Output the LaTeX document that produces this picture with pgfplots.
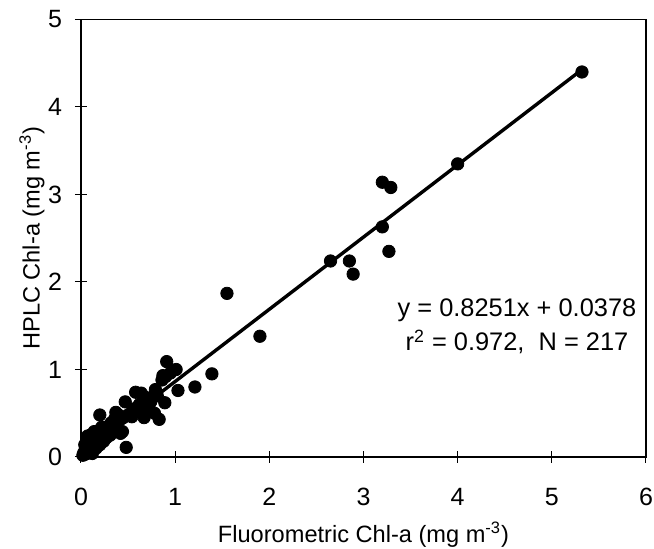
\documentclass[border=0pt]{standalone}
\usepackage{fontspec}
\setmainfont{Liberation Sans}
\usepackage{pgfplots}
\pgfplotsset{compat=1.18}

\begin{document}
\begin{tikzpicture}
\path[use as bounding box] (-40.5pt,-46pt) rectangle (286.5pt,228.5pt);
\begin{axis}[
    scale only axis,
    width=282.5pt, height=218.75pt,
    xmin=0, xmax=6, ymin=0, ymax=5,
    xtick={0,...,6}, ytick={0,...,5},
    axis line style={line width=0.7pt},
    tick align=center,
    major tick length=6pt,
    tick style={line width=0.5pt, black},
    xtick pos=bottom, ytick pos=left,
    /pgf/number format/assume math mode=true,
    tick label style={font=\fontsize{12.5}{14}\selectfont},
    xticklabel style={yshift=-9pt},
    yticklabel style={xshift=-3pt},
    xlabel={Fluorometric Chl-a (mg m\textsuperscript{-3})},
    ylabel={HPLC Chl-a (mg m\textsuperscript{-3})},
    label style={font=\fontsize{11.8}{13}\selectfont},
    xlabel style={at={(axis description cs:0.5,-0.178)}, anchor=center},
    ylabel style={at={(axis description cs:-0.087,0.5)}, anchor=center},
    clip=false,
]
\addplot[only marks, mark=*, mark size=3.1pt, black] coordinates {
(0.02,0.02) (0.03,0.05) (0.04,0.03) (0.05,0.06) (0.05,0.10) (0.06,0.04)
(0.07,0.08) (0.07,0.24) (0.08,0.12) (0.09,0.07) (0.10,0.10) (0.10,0.25)
(0.11,0.14) (0.12,0.09) (0.13,0.12) (0.14,0.29) (0.14,0.17) (0.15,0.13)
(0.16,0.20) (0.17,0.15) (0.18,0.23) (0.19,0.18) (0.20,0.48) (0.20,0.22)
(0.21,0.19) (0.22,0.34) (0.22,0.25) (0.24,0.22) (0.25,0.28) (0.26,0.24)
(0.27,0.33) (0.28,0.27) (0.30,0.30) (0.30,0.36) (0.32,0.39) (0.33,0.30)
(0.35,0.40) (0.37,0.51) (0.38,0.35) (0.40,0.48) (0.42,0.43) (0.42,0.27)
(0.44,0.29) (0.45,0.45) (0.47,0.63) (0.48,0.11) (0.50,0.48) (0.53,0.50)
(0.54,0.46) (0.56,0.55) (0.58,0.74) (0.60,0.54) (0.62,0.60) (0.64,0.73)
(0.66,0.66) (0.67,0.45) (0.69,0.68) (0.70,0.52) (0.72,0.58) (0.74,0.63)
(0.78,0.50) (0.79,0.77) (0.81,0.70) (0.83,0.43) (0.86,0.88) (0.87,0.93)
(0.89,0.62) (0.90,0.92) (0.91,1.09) (0.95,0.96) (1.01,1.00) (1.03,0.76)
(1.21,0.80) (1.39,0.95) (1.55,1.87) (1.90,1.38)
(2.65,2.24) (2.85,2.24) (2.89,2.09)
(3.20,3.14) (3.29,3.08) (3.20,2.63) (3.27,2.35)
(4.00,3.35) (5.32,4.40)
(0.04,0.14) (0.06,0.18) (0.09,0.20) (0.12,0.22) (0.16,0.27) (0.19,0.30)
(0.23,0.31) (0.27,0.22) (0.31,0.25) (0.34,0.34) (0.36,0.44) (0.39,0.42)
(0.12,0.04) (0.16,0.10) (0.20,0.14) (0.24,0.18)
};
\addplot[black, line width=1.7pt] coordinates {(0,0.0378) (5.32,4.4273)};
\node[align=center, font=\fontsize{12.7}{17}\selectfont] at (axis cs:4.63,1.49)
    {y = 0.8251x + 0.0378\\r\textsuperscript{2} = 0.972,\ \ N = 217};
\end{axis}
\end{tikzpicture}
\end{document}
